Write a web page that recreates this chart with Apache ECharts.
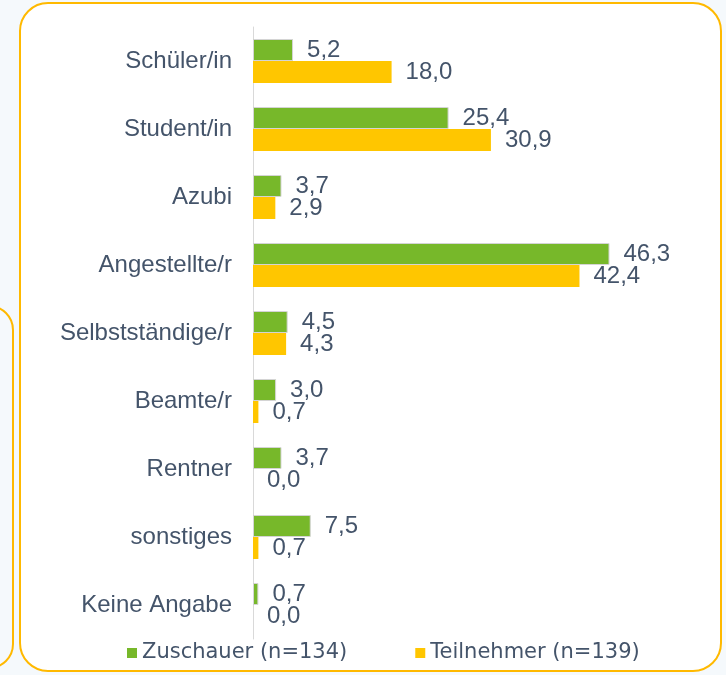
<!DOCTYPE html>
<html>
<head>
<meta charset="utf-8">
<script src="https://cdn.jsdelivr.net/npm/echarts@6/dist/echarts.min.js"></script>
<style>
  html, body { margin: 0; padding: 0; background: #f5f9fc; }
  #main { width: 726px; height: 675px; }
</style>
</head>
<body>
<div id="main"></div>
<script>
// Daten
const categories = ['Schüler/in', 'Student/in', 'Azubi', 'Angestellte/r', 'Selbstständige/r', 'Beamte/r', 'Rentner', 'sonstiges', 'Keine Angabe'];
const zuschauer = [5.2, 25.4, 3.7, 46.3, 4.5, 3.0, 3.7, 7.5, 0.7];
const teilnehmer = [18.0, 30.9, 2.9, 42.4, 4.3, 0.7, 0.0, 0.7, 0.0];
const seriesNames = ['Zuschauer (n=134)', 'Teilnehmer (n=139)'];

const font = 'Arial, "Liberation Sans", sans-serif';
const textColor = '#44546a';

const myChart = echarts.init(document.getElementById('main'));

const fmt = p => p.value.toFixed(1).replace('.', ',');

const option = {
  animation: false,
  textStyle: { fontFamily: font },
  graphic: [
    // linke Nachbarbox (angeschnitten)
    {
      type: 'rect', z: -10,
      shape: { x: -100, y: 306, width: 113, height: 362, r: 24 },
      style: { fill: '#f5f9fc', stroke: '#ffb900', lineWidth: 2 }
    },
    // Hauptbox
    {
      type: 'rect', z: -9,
      shape: { x: 20, y: 3, width: 701, height: 668, r: 28 },
      style: { fill: '#ffffff', stroke: '#ffb900', lineWidth: 2 }
    }
  ],
  legend: {
    left: 127,
    top: 642,
    padding: 0,
    itemWidth: 10,
    itemHeight: 10,
    itemGap: 68,
    icon: 'rect',
    itemStyle: { borderWidth: 0 },
    textStyle: { fontSize: 21, lineHeight: 22, color: textColor, fontFamily: '"DejaVu Sans", sans-serif' },
    data: seriesNames
  },
  grid: {
    left: 253,
    top: 27,
    width: 385,
    height: 612
  },
  xAxis: {
    type: 'value',
    min: 0,
    max: 50,
    show: false
  },
  yAxis: {
    type: 'category',
    inverse: true,
    data: categories,
    axisLine: { show: true, lineStyle: { color: '#d9d9d9', width: 1 } },
    axisTick: { show: false },
    axisLabel: { fontSize: 24, color: textColor, margin: 21, fontFamily: font }
  },
  series: [
    {
      name: seriesNames[0],
      type: 'bar',
      data: zuschauer,
      barWidth: 22,
      barGap: '0%',
      itemStyle: { color: '#77b82a', borderColor: '#d4d4d4', borderWidth: 1 },
      label: {
        show: true, position: 'right', distance: 14,
        fontSize: 24, color: textColor, formatter: fmt
      }
    },
    {
      name: seriesNames[1],
      type: 'bar',
      data: teilnehmer,
      barWidth: 22,
      barGap: '0%',
      itemStyle: { color: '#ffc600' },
      label: {
        show: true, position: 'right', distance: 14,
        fontSize: 24, color: textColor, formatter: fmt
      }
    }
  ]
};

myChart.setOption(option);
</script>
</body>
</html>
